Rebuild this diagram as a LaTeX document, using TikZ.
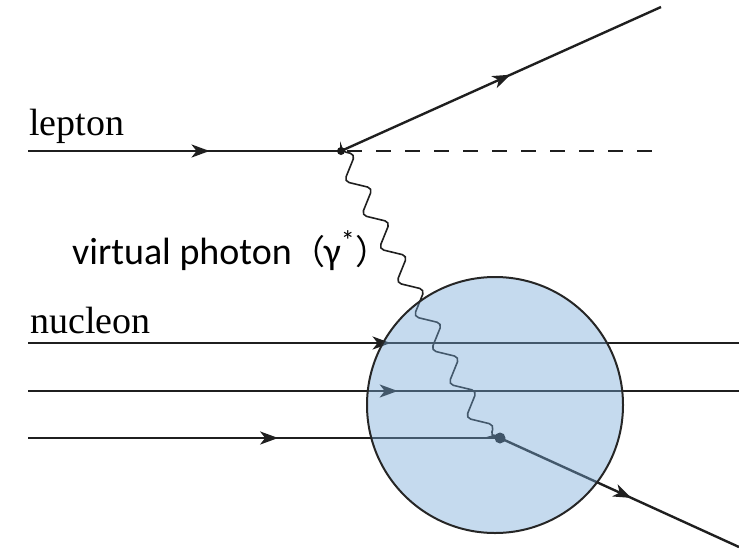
\documentclass[tikz,border=0pt]{standalone}
\usepackage{fontspec}
\setmainfont{Liberation Serif}
\newfontfamily\carlito{Carlito}
\newfontfamily\cjk{Noto Sans CJK SC}
\usetikzlibrary{arrows.meta,decorations.markings,decorations.pathmorphing}
\tikzset{
  fline/.style={line width=2.4pt, draw=black!88},
  arrowat/.style={postaction={decorate,decoration={markings,
      mark=at position #1 with {\arrow{Stealth[length=18pt,width=13pt,inset=5pt]}}}}},
  photon/.style={line width=1.6pt, draw=black!88, rounded corners=5pt,
      decorate, decoration={zigzag, segment length=38pt, amplitude=11pt, post length=2pt}},
  lbl/.style={inner sep=0pt, anchor=base west},
  vdot/.style={circle, fill=black!90, inner sep=0pt, minimum size=7pt},
}
\begin{document}
\begin{tikzpicture}[x=1pt,y=-1pt]
\useasboundingbox (0,0) rectangle (739,552);
% coordinates
\coordinate (lin) at (28,151);
\coordinate (v1) at (341,151);
\coordinate (lout) at (661,7);
\coordinate (dend) at (662,151);
\coordinate (n1a) at (28,343);
\coordinate (n1b) at (739,343);
\coordinate (n2a) at (28,391);
\coordinate (n2b) at (739,391);
\coordinate (n3a) at (28,438);
\coordinate (v2) at (500,438);
\coordinate (pend) at (488,437);
\coordinate (qout) at (739,547);
\coordinate (c) at (495,405);
% labels
\node[lbl, font=\fontsize{38}{42}\selectfont] (lep) at (29,135) {lepton};
\node[lbl, font=\fontsize{38}{42}\selectfont] (nuc) at (30,333) {nucleon};
\node[lbl, font=\fontsize{38}{42}\selectfont] (vp) at (72,264)
  {{\carlito virtual photon}{\fontsize{34}{40}\selectfont\cjk （}\kern-2pt{\carlito γ\raisebox{0.35em}{\fontsize{28}{30}\selectfont *}}\kern1pt{\fontsize{34}{40}\selectfont\cjk ）}};
% lines
\draw[fline, arrowat=0.58] (lin) -- (v1);
\draw[fline, arrowat=0.53] (v1) -- (lout);
\draw[fline, dash pattern=on 15pt off 14pt] ([xshift=6pt]v1) -- (dend);
\draw[fline, arrowat=0.51] (n1a) -- (n1b);
\draw[fline, arrowat=0.52] (n2a) -- (n2b);
\draw[fline, arrowat=0.53] (n3a) -- (v2);
\draw[fline, arrowat=0.55] (v2) -- (qout);
\draw[photon] (v1) -- (pend) -- (v2);
\node[vdot, minimum size=8pt] (d1) at (v1) {};
\node[vdot, minimum size=11pt] (d2) at (v2) {};
% nucleon blob
\definecolor{blob}{RGB}{117,167,214}
\fill[blob, fill opacity=0.42] (c) circle[radius=128pt];
\draw[line width=2pt, black!85] (c) circle[radius=128pt];
\end{tikzpicture}
\end{document}
